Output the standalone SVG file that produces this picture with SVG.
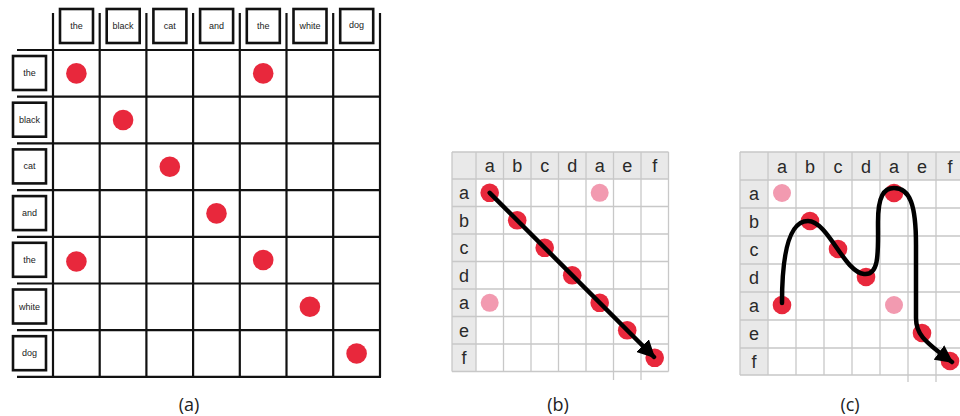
<svg xmlns="http://www.w3.org/2000/svg" width="960" height="416" viewBox="0 0 960 416">
<style>
.g{stroke:#111;stroke-width:2.2;fill:none}
.bx{fill:#fff;stroke:#111;stroke-width:2.6}
.wt{font-family:"Liberation Sans",Arial,sans-serif;font-size:9px;fill:#222;text-anchor:middle}
.rd{fill:#e8283c}
.pk{fill:#f29ab0}
.lg{stroke:#c8c8c8;stroke-width:1.3;fill:none}
.hd{fill:#e9e9e9}
.lt{font-family:"Liberation Sans",Arial,sans-serif;font-size:18px;fill:#2a2a2a;text-anchor:middle}
.cap{font-family:"Open Sans","Liberation Sans",sans-serif;font-size:18px;fill:#222;text-anchor:middle}
.ar{stroke:#000;stroke-width:4.5;fill:none;stroke-linecap:round}
</style>
<defs>
<marker id="ah" viewBox="0 0 10 10" refX="9" refY="5" markerWidth="4" markerHeight="4" orient="auto" markerUnits="strokeWidth">
<path d="M0,0 L10,5 L0,10 z" fill="#000"/>
</marker>
</defs>

<!-- Panel (a) -->
<g id="panel-a-grid">
<path class="g" d="M53,13V377 M99.7,13V377 M146.4,13V377 M193.1,13V377 M239.8,13V377 M286.5,13V377 M333.2,13V377 M380,13V377"/>
<path class="g" d="M17,50H381 M17,96.7H381 M17,143.4H381 M17,190.1H381 M17,236.8H381 M17,283.5H381 M17,330.2H381 M17,376.9H381"/>
</g>
<g id="col-the1"><rect class="bx" x="60" y="9" width="33" height="34"/><text class="wt" x="76.4" y="29">the</text></g>
<g id="col-black"><rect class="bx" x="106.7" y="9" width="33" height="34"/><text class="wt" x="123.1" y="29">black</text></g>
<g id="col-cat"><rect class="bx" x="153.4" y="9" width="33" height="34"/><text class="wt" x="169.8" y="29">cat</text></g>
<g id="col-and"><rect class="bx" x="200.1" y="9" width="33" height="34"/><text class="wt" x="216.5" y="29">and</text></g>
<g id="col-the2"><rect class="bx" x="246.8" y="9" width="33" height="34"/><text class="wt" x="263.2" y="29">the</text></g>
<g id="col-white"><rect class="bx" x="293.5" y="9" width="33" height="34"/><text class="wt" x="309.9" y="29">white</text></g>
<g id="col-dog"><rect class="bx" x="340.2" y="9" width="33" height="34"/><text class="wt" x="356.6" y="28">dog</text></g>

<g id="row-the1"><rect class="bx" x="13" y="56" width="33" height="34"/><text class="wt" x="29.5" y="76">the</text></g>
<g id="row-black"><rect class="bx" x="13" y="102.7" width="33" height="34"/><text class="wt" x="29.5" y="122.7">black</text></g>
<g id="row-cat"><rect class="bx" x="13" y="149.4" width="33" height="34"/><text class="wt" x="29.5" y="169.4">cat</text></g>
<g id="row-and"><rect class="bx" x="13" y="196.1" width="33" height="34"/><text class="wt" x="29.5" y="216.1">and</text></g>
<g id="row-the2"><rect class="bx" x="13" y="242.8" width="33" height="34"/><text class="wt" x="29.5" y="262.8">the</text></g>
<g id="row-white"><rect class="bx" x="13" y="289.5" width="33" height="34"/><text class="wt" x="29.5" y="309.5">white</text></g>
<g id="row-dog"><rect class="bx" x="13" y="336.2" width="33" height="34"/><text class="wt" x="29.5" y="355.5">dog</text></g>

<g id="panel-a-dots">
<circle class="rd" cx="76.4" cy="73.4" r="10.3"/>
<circle class="rd" cx="263.2" cy="73.4" r="10.3"/>
<circle class="rd" cx="123.1" cy="120" r="10.3"/>
<circle class="rd" cx="169.8" cy="166.7" r="10.3"/>
<circle class="rd" cx="216.5" cy="213.4" r="10.3"/>
<circle class="rd" cx="76.4" cy="261.5" r="10.3"/>
<circle class="rd" cx="263.2" cy="260" r="10.3"/>
<circle class="rd" cx="309.9" cy="306.8" r="10.3"/>
<circle class="rd" cx="356.6" cy="353.5" r="10.3"/>
</g>
<text class="cap" x="189" y="411">(a)</text>

<!-- Panel (b) -->
<g id="panel-b-grid">
<rect class="hd" x="452" y="152" width="216.5" height="27"/>
<rect class="hd" x="452" y="152" width="24" height="219.5"/>
<path class="lg" d="M452,152V371.5 M476,152V371.5 M503.5,152V371.5 M531,152V371.5 M558.5,152V371.5 M586,152V371.5 M613.5,152V380 M641,152V380 M668.5,152V371.5"/>
<path class="lg" d="M452,152H668.5 M452,179H668.5 M452,206.5H668.5 M452,234H668.5 M452,261.5H668.5 M452,289H668.5 M452,316.5H668.5 M452,344H668.5 M452,371.5H668.5"/>
<text class="lt" x="489.7" y="172">a</text><text class="lt" x="517.2" y="172">b</text><text class="lt" x="544.7" y="172">c</text><text class="lt" x="572.2" y="172">d</text><text class="lt" x="599.7" y="172">a</text><text class="lt" x="627.2" y="172">e</text><text class="lt" x="654.7" y="172">f</text>
<text class="lt" x="464" y="199">a</text><text class="lt" x="464" y="226.5">b</text><text class="lt" x="464" y="254">c</text><text class="lt" x="464" y="281.5">d</text><text class="lt" x="464" y="309">a</text><text class="lt" x="464" y="336.5">e</text><text class="lt" x="464" y="364">f</text>
</g>
<g id="panel-b-dots">
<circle class="pk" cx="599.7" cy="192.8" r="9"/>
<circle class="pk" cx="489.7" cy="302.8" r="9"/>
<circle class="rd" cx="489.7" cy="192.8" r="9.3"/>
<circle class="rd" cx="517.2" cy="220.3" r="9.3"/>
<circle class="rd" cx="544.7" cy="247.8" r="9.3"/>
<circle class="rd" cx="572.2" cy="275.3" r="9.3"/>
<circle class="rd" cx="599.7" cy="302.8" r="9.3"/>
<circle class="rd" cx="627.2" cy="330.3" r="9.3"/>
<circle class="rd" cx="654.7" cy="357.8" r="9.3"/>
</g>
<text class="cap" x="558" y="411">(b)</text>

<!-- Panel (c) -->
<g id="panel-c-grid">
<rect class="hd" x="740" y="152" width="224" height="28"/>
<rect class="hd" x="740" y="152" width="28" height="223"/>
<path class="lg" d="M740,152V375 M768,152V375 M796,152V375 M824,152V375 M852,152V375 M880,152V375 M908,152V382 M936,152V382"/>
<path class="lg" d="M740,152H964 M740,180H964 M740,208H964 M740,236H964 M740,264H964 M740,292H964 M740,320H964 M740,348H964 M740,375H964"/>
<text class="lt" x="782" y="173">a</text><text class="lt" x="810" y="173">b</text><text class="lt" x="838" y="173">c</text><text class="lt" x="866" y="173">d</text><text class="lt" x="894" y="173">a</text><text class="lt" x="922" y="173">e</text><text class="lt" x="950" y="173">f</text>
<text class="lt" x="754" y="200">a</text><text class="lt" x="754" y="228">b</text><text class="lt" x="754" y="256">c</text><text class="lt" x="754" y="284">d</text><text class="lt" x="754" y="312">a</text><text class="lt" x="754" y="340">e</text><text class="lt" x="754" y="368">f</text>
</g>
<g id="panel-c-dots">
<circle class="pk" cx="782" cy="193" r="9"/>
<circle class="pk" cx="894" cy="305" r="9"/>
<circle class="rd" cx="894" cy="193" r="9.3"/>
<circle class="rd" cx="810" cy="221" r="9.3"/>
<circle class="rd" cx="838" cy="249" r="9.3"/>
<circle class="rd" cx="866" cy="277" r="9.3"/>
<circle class="rd" cx="782" cy="305" r="9.3"/>
<circle class="rd" cx="922" cy="333" r="9.3"/>
<circle class="rd" cx="950" cy="361" r="9.3"/>
</g>
<text class="cap" x="850" y="411">(c)</text>

<g id="connectors">
<line class="ar" x1="489.7" y1="192.8" x2="654" y2="357" marker-end="url(#ah)"/>
<path class="ar" d="M782,303 C782,250 790,221 808,221 C828,221 844,272 864,274 C880,276 878,250 878,222 C878,196 884,188 894,188 C910,188 916,205 916,245 L916,318 C916,333 922,340 952,362" marker-end="url(#ah)"/>
</g>
</svg>
